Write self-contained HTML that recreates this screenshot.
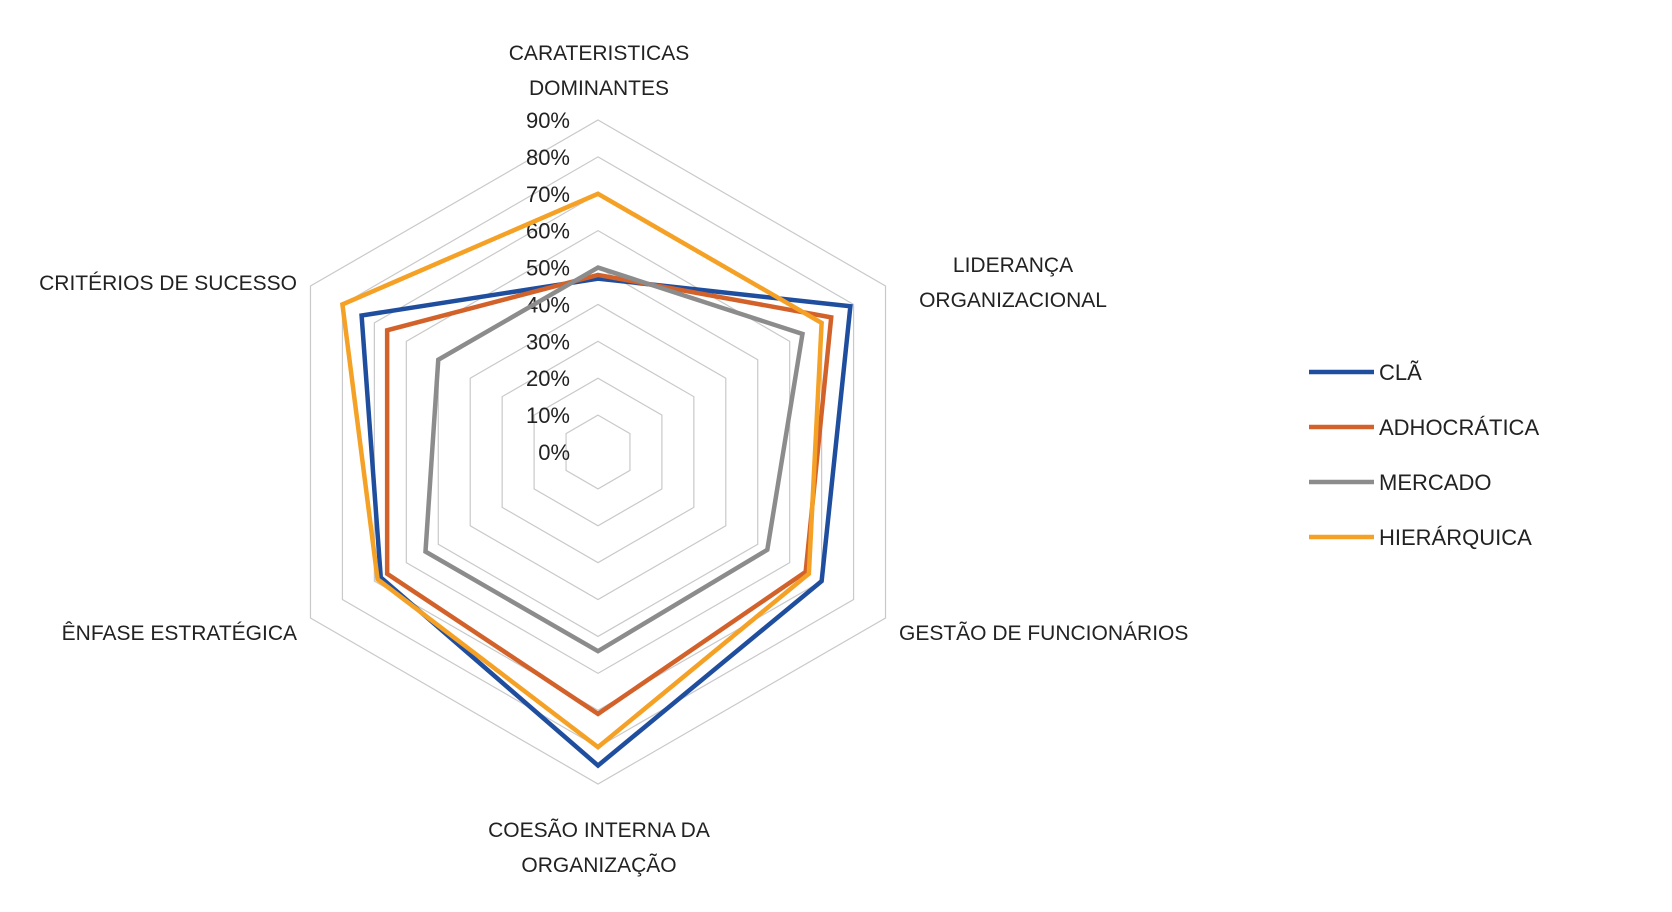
<!DOCTYPE html>
<html><head><meta charset="utf-8"><style>
html,body{margin:0;padding:0;background:#fff;}
svg{display:block;font-family:"Liberation Sans",sans-serif;}
</style></head><body>
<svg id="chart" width="1672" height="912" viewBox="0 0 1672 912">
<g id="grid"></g>
<g id="ticks"></g>
<g id="series"></g>
<g id="cats"></g>
<g id="legend"></g>
</svg>
<script>
const categories = [["CARATERISTICAS","DOMINANTES"],["LIDERANÇA","ORGANIZACIONAL"],["GESTÃO DE FUNCIONÁRIOS"],["COESÃO INTERNA DA","ORGANIZAÇÃO"],["ÊNFASE ESTRATÉGICA"],["CRITÉRIOS DE SUCESSO"]];
const seriesNames = ["CLÃ","ADHOCRÁTICA","MERCADO","HIERÁRQUICA"];
const claValues = [47,79,70,85,68,74];
const adhocraticaValues = [48,73,65,71,66,66];
const mercadoValues = [50,64,53,54,54,50];
const hierarquicaValues = [70,70,66,80,69,80];
const tickValues = [0,10,20,30,40,50,60,70,80,90];
const tickLabels = ["0%","10%","20%","30%","40%","50%","60%","70%","80%","90%"];

const NS="http://www.w3.org/2000/svg";
const cx=598, cy=452, maxV=90, maxR=332;
const colors=["#1f4e9e","#d2622a","#8c8c8c","#f4a126"];
const allValues=[claValues,adhocraticaValues,mercadoValues,hierarquicaValues];
function rScale(v){return v/maxV*maxR;}
function pt(i,v){const a=i*Math.PI*2/categories.length;return [cx+rScale(v)*Math.sin(a), cy-rScale(v)*Math.cos(a)];}
function mk(tag,attrs,parent){const e=document.createElementNS(NS,tag);for(const k in attrs)e.setAttribute(k,attrs[k]);parent.appendChild(e);return e;}

const grid=document.getElementById('grid');
tickValues.forEach((t)=>{ if(t===0)return;
  const p=mk('polygon',{points:categories.map((c,i)=>pt(i,t).join(',')).join(' '),fill:'none',stroke:'#c9c9c9','stroke-width':1.2},grid);
  
  
});
const ticks=document.getElementById('ticks');
tickValues.forEach((t,k)=>{
  const tx=mk('text',{x:570,y:cy-rScale(t)+8,'text-anchor':'end','font-size':22,fill:'#222'},ticks);
  tx.textContent=tickLabels[k];
  
  
});
const sg=document.getElementById('series');
allValues.forEach((vals,s)=>{
  const p=mk('polygon',{points:vals.map((v,i)=>pt(i,v).join(',')).join(' '),fill:'none',stroke:colors[s],'stroke-width':4.5,'stroke-linejoin':'miter'},sg);
  
  
});
const catPos=[[599,[60,95],'middle'],[1013,[272,307],'middle'],[899,[640],'start'],[599,[837,872],'middle'],[297,[640],'end'],[297,[290],'end']];
const cg=document.getElementById('cats');
categories.forEach((lines,i)=>{
  const [x,ys,anc]=catPos[i];
  lines.forEach((ln,j)=>{
    const t=mk('text',{x:x,y:ys[j],'text-anchor':anc,'font-size':21,fill:'#222'},cg);
    t.textContent=ln;
    
    
  });
});
const lg=document.getElementById('legend');
seriesNames.forEach((n,s)=>{
  const y=372+s*55;
  const l=mk('line',{x1:1309,x2:1374,y1:y,y2:y,stroke:colors[s],'stroke-width':4.5},lg);
  
  
  const t=mk('text',{x:1379,y:y+8,'font-size':22,fill:'#222'},lg);
  t.textContent=n;
  
  
});
</script>
</body></html>
